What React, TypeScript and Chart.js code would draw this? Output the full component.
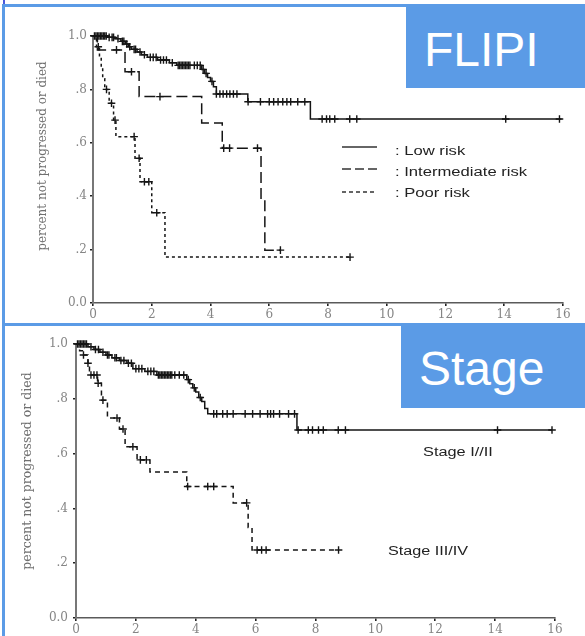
import React, { useEffect, useRef } from "react";
import { Chart, registerables } from "chart.js";

Chart.register(...registerables);

const SERIF = '"DejaVu Serif", serif';
const SANS = '"Liberation Sans", Arial, sans-serif';
const INK = "#151515";
const BLUE = "#5b9be6";

// Shared axes
const xMin = 0;
const xMax = 16;
const xStep = 2;
const yTickValues = [0, 0.2, 0.4, 0.6, 0.8, 1];
const yTickText = ["0.0", ".2", ".4", ".6", ".8", "1.0"];
const yAxisTitle = "percent not progressed or died";

// FLIPI: low risk (years, proportion event-free)
const lowTime = [0, 0.5, 0.75, 0.95, 1.1, 1.2, 1.3, 1.5, 1.65, 1.85, 2.2, 2.6, 2.85, 3.7, 3.8, 3.9, 4.0, 4.1, 4.2, 5.27, 7.4, 15.95];
const lowSurv = [1, 0.995, 0.99, 0.98, 0.97, 0.96, 0.95, 0.94, 0.93, 0.92, 0.91, 0.9, 0.89, 0.875, 0.86, 0.845, 0.83, 0.81, 0.783, 0.754, 0.689, 0.689];
const lowCensored = [0.05, 0.1, 0.15, 0.2, 0.25, 0.3, 0.35, 0.4, 0.45, 0.55, 0.65, 0.7, 0.85, 1.0, 1.05, 1.15, 1.25, 1.4, 1.45, 1.6, 1.75, 1.95, 2.05, 2.15, 2.3, 2.4, 2.5, 2.7, 2.9, 2.95, 3.0, 3.05, 3.1, 3.15, 3.2, 3.25, 3.3, 3.45, 3.55, 3.65, 3.75, 3.85, 4.05, 4.2, 4.32, 4.43, 4.55, 4.66, 4.78, 4.9, 5.28, 5.7, 6.0, 6.15, 6.3, 6.46, 6.6, 6.73, 6.97, 7.21, 7.8, 7.95, 8.06, 8.23, 8.74, 8.98, 14.05, 15.88];

// FLIPI: intermediate risk
const intTime = [0, 0.15, 1.09, 1.57, 3.7, 4.4, 5.72, 5.85, 6.38];
const intSurv = [1, 0.948, 0.866, 0.773, 0.674, 0.58, 0.386, 0.198, 0.198];
const intCensored = [0.8, 1.31, 2.28, 4.45, 4.65, 5.6, 6.38];

// FLIPI: poor risk
const poorTime = [0, 0.12, 0.22, 0.28, 0.33, 0.4, 0.55, 0.7, 0.78, 1.43, 1.6, 2.0, 2.45, 8.75];
const poorSurv = [1, 0.96, 0.92, 0.88, 0.84, 0.8, 0.748, 0.685, 0.623, 0.542, 0.454, 0.338, 0.172, 0.172];
const poorCensored = [0.18, 0.46, 0.63, 0.75, 1.4, 1.57, 1.75, 1.9, 2.17, 8.75];

const riskLabels = [": Low risk", ": Intermediate risk", ": Poor risk"];

// Stage: I/II
const earlyTime = [0, 0.4, 0.6, 0.8, 1.0, 1.2, 1.45, 1.7, 1.9, 2.3, 2.7, 3.7, 3.8, 3.9, 4.0, 4.1, 4.2, 4.3, 4.4, 7.38, 15.9];
const earlySurv = [1, 0.99, 0.98, 0.97, 0.96, 0.95, 0.94, 0.93, 0.91, 0.9, 0.887, 0.87, 0.855, 0.84, 0.825, 0.805, 0.79, 0.765, 0.745, 0.686, 0.686];
const earlyCensored = [0.05, 0.1, 0.15, 0.2, 0.25, 0.3, 0.35, 0.5, 0.65, 0.75, 0.9, 1.05, 1.1, 1.3, 1.35, 1.5, 1.6, 1.75, 1.85, 2.0, 2.1, 2.2, 2.4, 2.5, 2.6, 2.75, 2.8, 2.85, 2.9, 2.95, 3.0, 3.05, 3.1, 3.15, 3.2, 3.3, 3.45, 3.6, 3.75, 3.95, 4.15, 4.6, 4.7, 4.9, 5.05, 5.25, 5.65, 5.9, 6.15, 6.4, 6.5, 6.6, 6.8, 7.1, 7.3, 7.42, 7.76, 7.9, 8.1, 8.26, 8.76, 9.0, 14.08, 15.9];

// Stage: III/IV
const lateTime = [0, 0.12, 0.25, 0.4, 0.45, 0.72, 0.85, 1.05, 1.45, 1.64, 2.04, 2.47, 3.7, 5.25, 5.75, 5.88, 8.77];
const lateSurv = [1, 0.975, 0.96, 0.93, 0.887, 0.857, 0.795, 0.73, 0.69, 0.625, 0.577, 0.533, 0.48, 0.42, 0.33, 0.248, 0.248];
const lateCensored = [0.25, 0.4, 0.5, 0.6, 0.7, 0.74, 0.9, 1.37, 1.57, 1.9, 2.15, 2.35, 3.73, 4.4, 4.6, 5.7, 6.05, 6.2, 6.35, 8.77];

const stageLabels = ["Stage I//II", "Stage III/IV"];

type Curve = { time: number[]; surv: number[]; censored: number[]; dash: number[] };

function survivalAt(time: number[], surv: number[], t: number) {
  let s = surv[0];
  for (let i = 0; i < time.length; i++) if (time[i] <= t) s = surv[i];
  return s;
}

function stretchedText(ctx: CanvasRenderingContext2D, text: string, x: number, y: number, sx: number) {
  ctx.save();
  ctx.translate(x, y);
  ctx.scale(sx, 1);
  ctx.fillText(text, 0, 0);
  ctx.restore();
}

function drawYTitle(ctx: CanvasRenderingContext2D, cx: number, cy: number, size: number) {
  ctx.save();
  ctx.translate(cx, cy);
  ctx.rotate(-Math.PI / 2);
  ctx.font = `${size}px ${SERIF}`;
  ctx.fillStyle = "#707070";
  ctx.textAlign = "center";
  ctx.textBaseline = "middle";
  ctx.fillText(yAxisTitle, 0, 0);
  ctx.restore();
}

type PanelProps = {
  top: number;
  height: number;
  padTop: number;
  padRight: number;
  yWidth: number;
  xHeight: number;
  yPad: number;
  curves: Curve[];
  decorate: (ctx: CanvasRenderingContext2D) => void;
};

function KMPanel(p: PanelProps) {
  const ref = useRef<HTMLCanvasElement>(null);
  useEffect(() => {
    const datasets: any[] = [];
    p.curves.forEach((c) => {
      datasets.push({
        data: c.time.map((t, i) => ({ x: t, y: c.surv[i] })),
        showLine: true,
        stepped: true,
        borderColor: INK,
        borderWidth: 1.5,
        borderDash: c.dash,
        pointRadius: 0,
        clip: false,
      });
      datasets.push({
        data: c.censored.map((t) => ({ x: t, y: survivalAt(c.time, c.surv, t) })),
        showLine: false,
        pointStyle: "cross",
        pointRadius: 3.8,
        borderColor: INK,
        pointBorderColor: INK,
        borderWidth: 1.4,
        pointBorderWidth: 1.4,
        clip: false,
      });
    });
    const tickFont = { family: SERIF, size: 12 };
    const chart = new Chart(ref.current as HTMLCanvasElement, {
      type: "scatter",
      data: { datasets },
      options: {
        responsive: false,
        animation: false,
        devicePixelRatio: 1,
        events: [],
        layout: { padding: { top: p.padTop, right: p.padRight, bottom: 0, left: 0 } },
        plugins: { legend: { display: false }, tooltip: { enabled: false } },
        scales: {
          x: {
            type: "linear",
            min: xMin,
            max: xMax,
            ticks: { stepSize: xStep, font: tickFont, color: "#858585", padding: 2, maxRotation: 0, autoSkip: false },
            grid: { drawOnChartArea: false, drawTicks: true, tickLength: 3, color: "#222", lineWidth: 1.6 },
            border: { color: "#5a5a5a", width: 1.6 },
            afterFit: (s: any) => {
              s.height = p.xHeight;
            },
          },
          y: {
            type: "linear",
            min: 0,
            max: 1,
            afterBuildTicks: (s: any) => {
              s.ticks = yTickValues.map((v) => ({ value: v }));
            },
            ticks: {
              font: tickFont,
              color: "#858585",
              padding: p.yPad,
              callback: (v: any) => {
                const i = yTickValues.findIndex((t) => Math.abs(t - Number(v)) < 1e-6);
                return i >= 0 ? yTickText[i] : "";
              },
            },
            grid: { drawOnChartArea: false, drawTicks: true, tickLength: 3, color: "#222", lineWidth: 1.6 },
            border: { color: "#777", width: 2 },
            afterFit: (s: any) => {
              s.width = p.yWidth;
            },
          },
        },
      },
      plugins: [
        {
          id: "decor",
          afterDraw: (ch: any) => p.decorate(ch.ctx),
        },
      ],
    } as any);
    return () => chart.destroy();
  }, []);
  return (
    <canvas
      ref={ref}
      width={585}
      height={p.height}
      style={{ position: "absolute", left: 0, top: p.top, width: 585, height: p.height }}
    />
  );
}

const flipiCurves: Curve[] = [
  { time: lowTime, surv: lowSurv, censored: lowCensored, dash: [] },
  { time: intTime, surv: intSurv, censored: intCensored, dash: [11, 5] },
  { time: poorTime, surv: poorSurv, censored: poorCensored, dash: [3, 3] },
];

const stageCurves: Curve[] = [
  { time: earlyTime, surv: earlySurv, censored: earlyCensored, dash: [] },
  { time: lateTime, surv: lateSurv, censored: lateCensored, dash: [5, 4] },
];

function drawFlipiExtras(ctx: CanvasRenderingContext2D) {
  drawYTitle(ctx, 43, 156, 12);
  const legendDash = [[], [9, 4], [4, 3]];
  const lineY = [147, 169, 192];
  const textY = [152, 173, 194];
  ctx.save();
  ctx.strokeStyle = "#333";
  ctx.lineWidth = 1.3;
  legendDash.forEach((d, i) => {
    ctx.setLineDash(d);
    ctx.beginPath();
    ctx.moveTo(342, lineY[i]);
    ctx.lineTo(377, lineY[i]);
    ctx.stroke();
  });
  ctx.setLineDash([]);
  ctx.font = `12.5px ${SANS}`;
  ctx.fillStyle = "#222";
  ctx.textAlign = "left";
  ctx.textBaseline = "middle";
  riskLabels.forEach((t, i) => stretchedText(ctx, t, 395, textY[i], 1.33));
  ctx.restore();
}

function drawStageExtras(ctx: CanvasRenderingContext2D) {
  drawYTitle(ctx, 28, 146, 12.5);
  ctx.save();
  ctx.font = `12px ${SANS}`;
  ctx.fillStyle = "#222";
  ctx.textAlign = "left";
  ctx.textBaseline = "middle";
  stretchedText(ctx, stageLabels[0], 423, 128, 1.36);
  stretchedText(ctx, stageLabels[1], 388, 227, 1.35);
  ctx.restore();
}

const line = (left: number, top: number, width: number, height: number, color = BLUE) => (
  <div style={{ position: "absolute", left, top, width, height, background: color }} />
);

const boxText: React.CSSProperties = {
  position: "absolute",
  color: "#fff",
  fontFamily: SANS,
  fontSize: 48,
  lineHeight: "48px",
  whiteSpace: "nowrap",
};

export default function App() {
  return (
    <div
      style={{
        position: "fixed",
        left: 0,
        top: 0,
        width: 585,
        height: 636,
        overflow: "hidden",
        background: "#fff",
      }}
    >
      <KMPanel
        top={0}
        height={325}
        padTop={36}
        padRight={22}
        yWidth={93}
        xHeight={22}
        yPad={3}
        curves={flipiCurves}
        decorate={drawFlipiExtras}
      />
      <KMPanel
        top={325}
        height={311}
        padTop={19}
        padRight={30}
        yWidth={76}
        xHeight={18}
        yPad={5}
        curves={stageCurves}
        decorate={drawStageExtras}
      />
      {line(3, 0, 2, 5, "#4a58dc")}
      {line(2, 4, 583, 3)}
      {line(2, 4, 3, 321)}
      {line(2, 323, 583, 3)}
      {line(2, 325, 3, 311)}
      <div style={{ position: "absolute", left: 406, top: 7, width: 179, height: 81, background: BLUE }} />
      <div style={{ ...boxText, left: 424, top: 26 }}>FLIPI</div>
      <div style={{ position: "absolute", left: 401, top: 326, width: 184, height: 82, background: BLUE }} />
      <div style={{ ...boxText, left: 419, top: 345 }}>Stage</div>
    </div>
  );
}
